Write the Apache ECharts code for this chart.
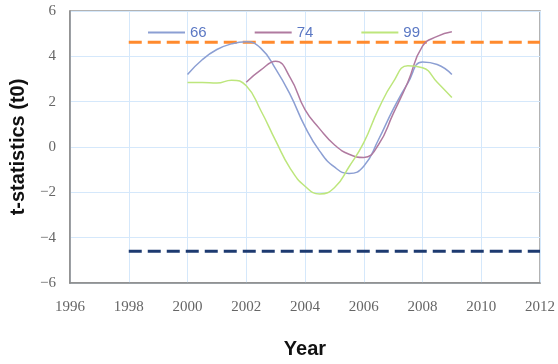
<!DOCTYPE html>
<html>
<head>
<meta charset="utf-8">
<script src="https://cdn.jsdelivr.net/npm/echarts@6/dist/echarts.min.js"></script>
<style>html,body{margin:0;padding:0;background:#fff}#c{width:558px;height:364px}</style>
</head>
<body>
<div id="c"></div>
<script>
// Sample years (half-year readings from the picture)
const years = [2000,2000.5,2001,2001.5,2002,2002.5,2003,2003.5,2004,2004.5,2005,2005.5,2006,2006.5,2007,2007.5,2008,2008.5,2009];
const s66 = [3.2,3.85,4.3,4.55,4.64,4.35,3.45,2.3,0.9,-0.18,-0.88,-1.17,-0.85,0.32,1.66,2.82,3.75,3.64,3.2];
const s74 = [null,null,null,null,2.86,3.4,3.78,3.05,1.65,0.8,0.1,-0.32,-0.46,0.1,1.46,2.86,4.45,4.88,5.08];
const s99 = [2.85,2.85,2.82,2.95,2.7,1.6,0.28,-0.95,-1.73,-2.07,-1.8,-0.87,0.19,1.67,2.86,3.58,3.5,2.86,2.18];
const upperCrit = 4.62;
const lowerCrit = -4.6;
const critRange = [1998, 2012];
const seriesNames = ['66','74','99'];

function pairs(vals){ return years.map((y,i)=>vals[i]==null?null:[y,vals[i]]).filter(p=>p); }

const chart = echarts.init(document.getElementById('c'), null, {renderer:'canvas'});
const lineColors = ['#8c9fd3','#b07aa0','#bde67c'];
const tickFont = {color:'#666', fontFamily:'Liberation Serif', fontSize:15};
chart.setOption({
  animation:false,
  grid:{left:68, top:11, right:16, bottom:70, show:true, borderColor:'#9a9a9a', borderWidth:1.5},
  legend:{
    data:seriesNames, left:148, top:25, padding:0, itemWidth:37, itemHeight:10, itemGap:48,
    textStyle:{color:'#5b78c4', fontFamily:'Liberation Sans', fontSize:15},
    icon:'path://M0,4L37,4L37,6L0,6Z'
  },
  xAxis:{
    type:'value', min:1996, max:2012, interval:2,
    name:'Year', nameLocation:'middle', nameGap:56,
    nameTextStyle:{color:'#111', fontFamily:'Liberation Sans', fontSize:20, fontWeight:'bold'},
    axisLine:{show:true, onZero:false, lineStyle:{color:'#888', width:1.5}},
    axisTick:{show:false},
    axisLabel:Object.assign({margin:17, formatter:v=>String(v)}, tickFont),
    splitLine:{show:true, lineStyle:{color:'#d5e8fb', width:1}}
  },
  yAxis:{
    type:'value', min:-6, max:6, interval:2,
    name:'t-statistics (t0)', nameLocation:'middle', nameGap:42,
    nameTextStyle:{color:'#111', fontFamily:'Liberation Sans', fontSize:20, fontWeight:'bold'},
    axisLine:{show:true, onZero:false, lineStyle:{color:'#888', width:1.5}},
    axisTick:{show:false},
    axisLabel:Object.assign({margin:14, formatter:v=>String(v).replace('-','\u2212')}, tickFont),
    splitLine:{show:true, lineStyle:{color:'#d5e8fb', width:1}}
  },
  series:[
    {type:'line', name:'crit+', data:critRange.map(x=>[x,upperCrit]), symbol:'none', silent:true,
     lineStyle:{color:'#ff8a2e', width:3, type:[13,6]}, z:1},
    {type:'line', name:'crit-', data:critRange.map(x=>[x,lowerCrit]), symbol:'none', silent:true,
     lineStyle:{color:'#1d3a70', width:3, type:[13,6]}, z:1},
    {type:'line', name:seriesNames[0], data:pairs(s66), smooth:0.5, symbol:'none', color:lineColors[0], lineStyle:{width:1.5}, z:3},
    {type:'line', name:seriesNames[1], data:pairs(s74), smooth:0.5, symbol:'none', color:lineColors[1], lineStyle:{width:1.5}, z:3},
    {type:'line', name:seriesNames[2], data:pairs(s99), smooth:0.5, symbol:'none', color:lineColors[2], lineStyle:{width:1.5}, z:3}
  ]
});
</script>
</body>
</html>
